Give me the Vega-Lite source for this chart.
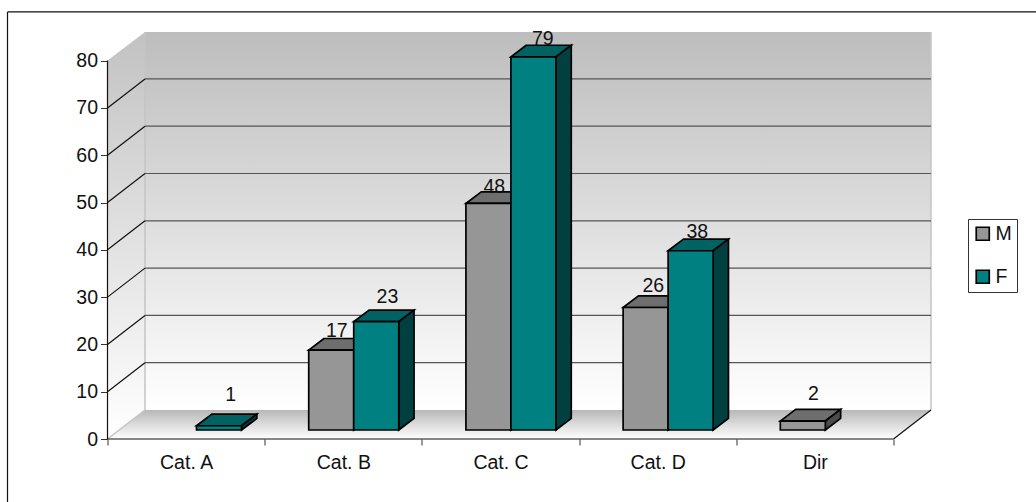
{
"$schema":"https://vega.github.io/schema/vega-lite/v6.json",
"width":823.5,"height":407,
"autosize":"none",
"padding":{"left":107.5,"top":32,"right":105,"bottom":63},
"background":"white",
"config":{"view":{"stroke":null},"font":"Liberation Sans"},
"datasets":{
"bars":[
{"category":"Cat. A","series":"F","value":1},
{"category":"Cat. B","series":"M","value":17},
{"category":"Cat. B","series":"F","value":23},
{"category":"Cat. C","series":"M","value":48},
{"category":"Cat. C","series":"F","value":79},
{"category":"Cat. D","series":"M","value":26},
{"category":"Cat. D","series":"F","value":38},
{"category":"Dir","series":"M","value":2}
]},
"encoding":{
"x":{"field":"x","type":"quantitative","title":null,"scale":{"domain":[0,5.2385],"nice":false,"zero":false},
"axis":{"values":[0,1,2,3,4,5],"domain":false,"grid":false,"tickColor":"#333","tickSize":6,"labelFontSize":19.5,"labelColor":"#111","labelPadding":8,"labelOffset":78.6,"labelOverlap":false,"labelBound":false,"labelFlush":false,
"labelExpr":"['Cat. A','Cat. B','Cat. C','Cat. D','Dir',''][datum.value]"}},
"y":{"field":"y","type":"quantitative","title":null,"stack":null,"scale":{"domain":[0,86.05],"nice":false,"zero":false},
"axis":{"values":[0,10,20,30,40,50,60,70,80],"domain":false,"grid":false,"tickColor":"#333","tickSize":7,"labelFontSize":19.5,"labelColor":"#111","labelPadding":3,"labelOverlap":false,"labelBound":false,"labelFlush":false}}
},
"layer":[
{"data":{"values":[{"x":0.2385,"x2":5.2385,"y":6.13,"y2":86.05}]},
 "mark":{"type":"rect","fill":{"gradient":"linear","x1":0,"y1":0,"x2":0,"y2":1,"stops":[{"offset":0,"color":"#bdbdbd"},{"offset":1,"color":"#ffffff"}]}},
 "encoding":{"x2":{"field":"x2"},"y2":{"field":"y2"}}},
{"data":{"values":[{"x":0,"y":0,"y2":80},{"x":0.2385,"y":6.13,"y2":86.05}]},
 "mark":{"type":"area","orient":"vertical","fill":{"gradient":"linear","x1":0,"y1":0,"x2":0,"y2":1,"stops":[{"offset":0,"color":"#c2c2c2"},{"offset":1,"color":"#ffffff"}]}},
 "encoding":{"y2":{"field":"y2"}}},
{"data":{"values":[{"y":0,"x":0,"x2":5},{"y":6.13,"x":0.2385,"x2":5.2385}]},
 "mark":{"type":"area","orient":"horizontal","fill":{"gradient":"linear","x1":0,"y1":0,"x2":0,"y2":1,"stops":[{"offset":0,"color":"#b8b8b8"},{"offset":1,"color":"#ffffff"}]}},
 "encoding":{"x2":{"field":"x2"}}},
{"data":{"values":[
{"x":0.2385,"x2":0.2385,"y":6.13,"y2":86.05},
{"x":5.2385,"x2":5.2385,"y":6.13,"y2":86.05},
{"x":0,"x2":0.2385,"y":0,"y2":6.13}]},
 "mark":{"type":"rule","stroke":"#c4c4c4","strokeWidth":1.5},
 "encoding":{"x2":{"field":"x2"},"y2":{"field":"y2"}}},
{"data":{"values":[
{"x":0.2385,"x2":5.2385,"y":16.13,"y2":16.13},
{"x":0.2385,"x2":5.2385,"y":26.13,"y2":26.13},
{"x":0.2385,"x2":5.2385,"y":36.13,"y2":36.13},
{"x":0.2385,"x2":5.2385,"y":46.13,"y2":46.13},
{"x":0.2385,"x2":5.2385,"y":56.13,"y2":56.13},
{"x":0.2385,"x2":5.2385,"y":66.13,"y2":66.13},
{"x":0.2385,"x2":5.2385,"y":76.13,"y2":76.13}]},
 "mark":{"type":"rule","stroke":"#555555","strokeWidth":1.2},
 "encoding":{"x2":{"field":"x2"},"y2":{"field":"y2"}}},
{"data":{"values":[
{"x":0,"x2":0.2385,"y":10,"y2":16.13},
{"x":0,"x2":0.2385,"y":20,"y2":26.13},
{"x":0,"x2":0.2385,"y":30,"y2":36.13},
{"x":0,"x2":0.2385,"y":40,"y2":46.13},
{"x":0,"x2":0.2385,"y":50,"y2":56.13},
{"x":0,"x2":0.2385,"y":60,"y2":66.13},
{"x":0,"x2":0.2385,"y":70,"y2":76.13},
{"x":5,"x2":5.2385,"y":0,"y2":6.13},
{"x":0,"x2":0,"y":0,"y2":80},
{"x":0,"x2":5,"y":0,"y2":0},
{"x":-0.6361,"x2":-0.6361,"y":-13.4,"y2":90.3},
{"x":-0.6361,"x2":5.95,"y":90.3,"y2":90.3}]},
 "mark":{"type":"rule","stroke":"#111111","strokeWidth":1.2},
 "encoding":{"x2":{"field":"x2"},"y2":{"field":"y2"}}},
{"data":{"name":"bars"},
 "transform":[
 {"calculate":"indexof(['Cat. A','Cat. B','Cat. C','Cat. D','Dir'],datum.category)+(datum.series=='M'?0.28:0.5663)","as":"cx"},
 {"calculate":"[0,1]","as":"t"},{"flatten":["t"]},
 {"calculate":"datum.value+1.8+datum.t*2.45","as":"y"},
 {"calculate":"datum.cx+datum.t*0.0975","as":"x"},
 {"calculate":"datum.x+0.2863","as":"x2"},
 {"calculate":"datum.category+datum.series","as":"key"}],
 "mark":{"type":"area","orient":"horizontal","stroke":"#000000","strokeWidth":1.7},
 "encoding":{"x2":{"field":"x2"},"detail":{"field":"key"},
 "fill":{"condition":{"test":"datum.series=='M'","value":"#6e6e6e"},"value":"#006262"}}},
{"data":{"name":"bars"},
 "transform":[
 {"calculate":"indexof(['Cat. A','Cat. B','Cat. C','Cat. D','Dir'],datum.category)+(datum.series=='M'?0.28:0.5663)+0.2863","as":"cx"},
 {"calculate":"[0,1]","as":"t"},{"flatten":["t"]},
 {"calculate":"datum.cx+datum.t*0.0975","as":"x"},
 {"calculate":"1.9+datum.t*2.45","as":"y"},
 {"calculate":"datum.value+1.8+datum.t*2.45","as":"y2"},
 {"calculate":"datum.category+datum.series","as":"key"}],
 "mark":{"type":"area","orient":"vertical","stroke":"#000000","strokeWidth":1.7},
 "encoding":{"y2":{"field":"y2"},"detail":{"field":"key"},
 "fill":{"condition":{"test":"datum.series=='M'","value":"#4b4b4b"},"value":"#004040"}}},
{"data":{"name":"bars"},
 "transform":[
 {"calculate":"indexof(['Cat. A','Cat. B','Cat. C','Cat. D','Dir'],datum.category)+(datum.series=='M'?0.28:0.5663)","as":"x"},
 {"calculate":"datum.x+0.2863","as":"x2"},
 {"calculate":"1.9","as":"y"},
 {"calculate":"datum.value+1.8","as":"y2"}],
 "mark":{"type":"rect","stroke":"#000000","strokeWidth":1.7},
 "encoding":{"x2":{"field":"x2"},"y2":{"field":"y2"},
 "fill":{"field":"series","type":"nominal","title":null,
 "scale":{"domain":["M","F"],"range":["#969696","#008080"]},
 "legend":{"orient":"none","legendX":860.5,"legendY":187,"strokeColor":"#333333","fillColor":"#ffffff","padding":5,"symbolType":"square","symbolSize":170,"symbolStrokeColor":"#000000","symbolStrokeWidth":1.7,"labelFontSize":19.5,"labelColor":"#111","labelOffset":3,"rowPadding":22,"values":["M","F"]}}}},
{"data":{"name":"bars"},
 "transform":[
 {"calculate":"indexof(['Cat. A','Cat. B','Cat. C','Cat. D','Dir'],datum.category)+(datum.series=='M'?0.28:0.5663)+0.14315+({'1':11.7,'17':5.5,'23':11.2,'48':5.8,'79':9.3,'26':7.7,'38':6.7,'2':10.5}[datum.value])/157.2","as":"x"},
 {"calculate":"datum.value+1.8+({'1':32,'17':20,'23':26,'48':17.3,'79':19,'26':23,'38':19.3,'2':27.8}[datum.value])/4.73","as":"y"}],
 "mark":{"type":"text","fontSize":19.5,"color":"#111111","baseline":"middle","align":"center","dy":1},
 "encoding":{"text":{"field":"value","type":"quantitative"}}}
]
}
